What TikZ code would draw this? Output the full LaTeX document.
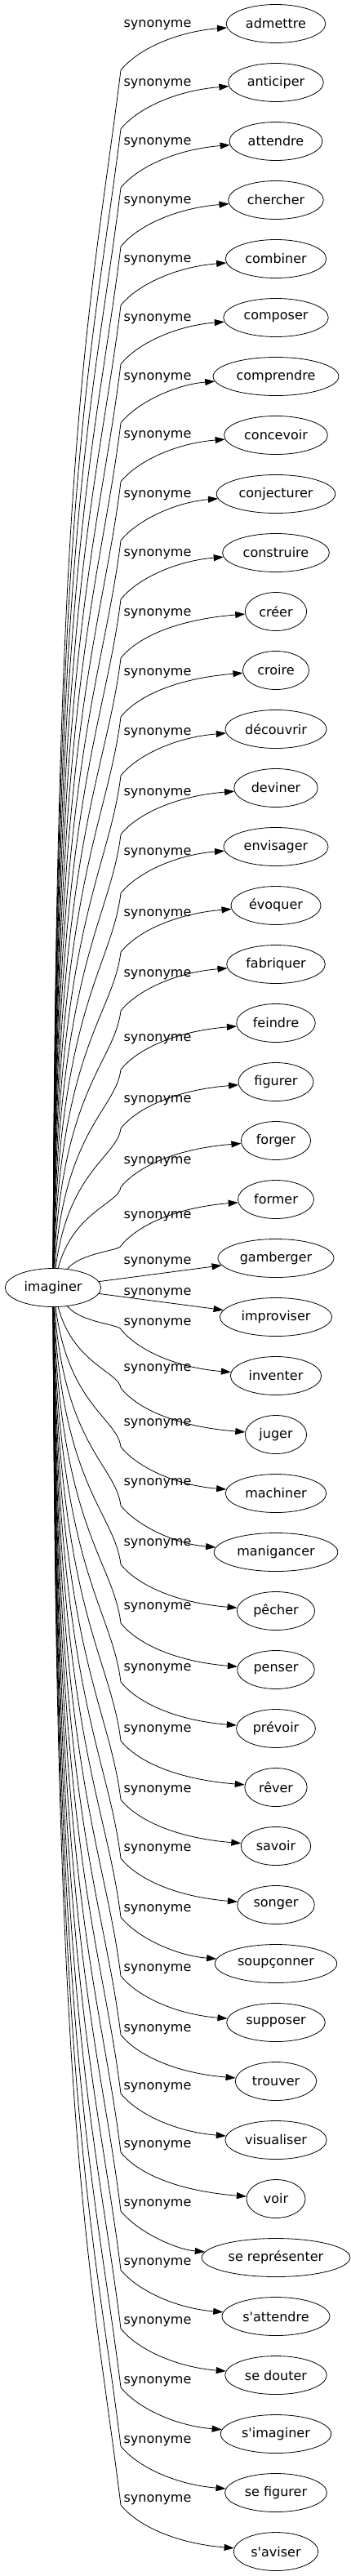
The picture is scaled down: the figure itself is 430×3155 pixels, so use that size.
\documentclass[tikz,border=0pt]{standalone}
\usepackage{fontspec}
\setmainfont{DejaVu Sans}
\usetikzlibrary{arrows.meta,shapes.geometric}
\tikzset{
  box/.style={draw,ellipse,line width=0.8pt,minimum width=72pt,minimum height=47pt,inner xsep=6pt,font=\fontsize{16}{19}\selectfont},
  lbl/.style={inner sep=1pt,font=\fontsize{16}{19}\selectfont},
  arr/.style={-{Triangle[length=12pt,width=8pt]},line width=0.8pt},
}
\begin{document}
\begin{tikzpicture}[x=1pt,y=-1pt]
 \useasboundingbox (0,0) rectangle (430,3155);
 \node[box] (root) at (65,1577) {imaginer};
 \foreach \i/\nom/\off in {0/admettre/2, 1/anticiper/2, 2/attendre/2, 3/chercher/2, 4/combiner/2, 5/composer/2,
   6/comprendre/2, 7/concevoir/1, 8/conjecturer/2, 9/construire/2, 10/créer/3, 11/croire/4, 12/découvrir/5,
   13/deviner/7, 14/envisager/8, 15/évoquer/11, 16/fabriquer/13, 17/feindre/20, 18/figurer/23, 19/forger/26,
   20/former/21, 21/gamberger/5, 22/improviser/-29, 23/inventer/-64, 24/juger/-80, 25/machiner/-85,
   26/manigancer/-84, 27/pêcher/-82, 28/penser/-76, 29/prévoir/-73, 30/rêver/-70, 31/savoir/-68,
   32/songer/-68, 33/soupçonner/-66, 34/supposer/-65, 35/trouver/-63, 36/visualiser/-64, 37/voir/-65,
   38/se représenter/-65, 39/{s\textquotesingle attendre}/-65, 40/se douter/-65,
   41/{s\textquotesingle imaginer}/-64, 42/se figurer/-63, 43/{s\textquotesingle aviser}/-63}{
   \pgfmathsetmacro\yt{29+72*\i}
   \pgfmathsetmacro\yl{\yt+\off}
   \node[box] (n\i) at (338,\yt) {\nom};
   \node[lbl] (l\i) at (193,\yl) {synonyme};
 }
 % edges going up
 \foreach \i in {0,...,20}{
   \pgfmathsetmacro\yt{29+72*\i}
   \pgfmathsetmacro\yk{\yt+57}
   \pgfmathsetmacro\D{1554-\yk}
   \pgfmathsetmacro\xs{68+30*exp(-(20-\i)/3)}
   \pgfmathsetmacro\ya{1554-0.7*\D}
   \pgfmathsetmacro\xb{148-0.025*\D}
   \pgfmathsetmacro\yb{\yk+0.2*\D}
   \coordinate (k\i) at (148,\yk);
   \draw[arr] (root) .. controls (\xs,\ya) and (\xb,\yb) .. (k\i) .. controls (168,\yk-25) and (215,\yt+10) .. (n\i);
 }
 \draw[arr] (root) -- (n21);
 \draw[arr] (root) -- (n22);
 % edges going down
 \foreach \i in {23,...,43}{
   \pgfmathsetmacro\yt{29+72*\i}
   \pgfmathsetmacro\yk{\yt-57}
   \pgfmathsetmacro\D{\yk-1600}
   \pgfmathsetmacro\xs{68+30*exp(-(\i-23)/3)}
   \pgfmathsetmacro\ya{1600+0.7*\D}
   \pgfmathsetmacro\xb{148-0.025*\D}
   \pgfmathsetmacro\yb{\yk-0.2*\D}
   \coordinate (k\i) at (148,\yk);
   \draw[arr] (root) .. controls (\xs,\ya) and (\xb,\yb) .. (k\i) .. controls (168,\yk+25) and (215,\yt-10) .. (n\i);
 }
\end{tikzpicture}
\end{document}
